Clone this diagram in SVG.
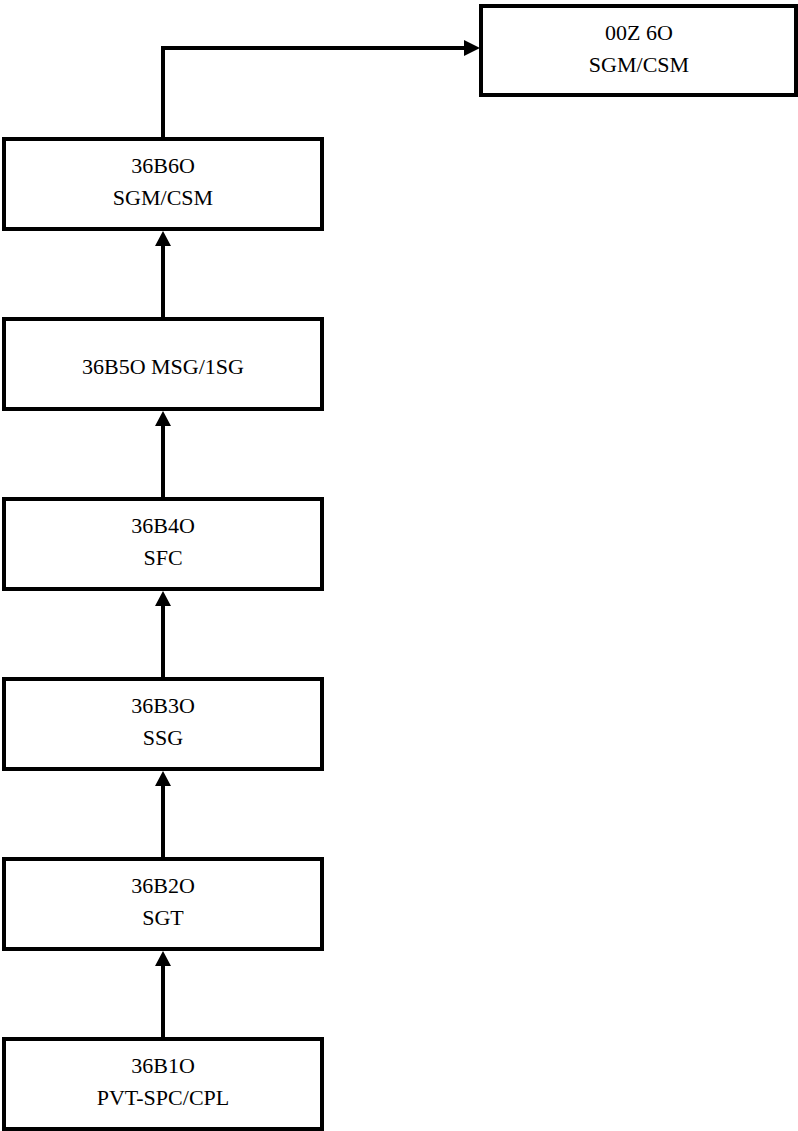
<svg xmlns="http://www.w3.org/2000/svg" width="798" height="1131" viewBox="0 0 798 1131">
<style>
.box{fill:#fff;stroke:#000;stroke-width:4}
.t{font-family:"Liberation Serif","Times New Roman",serif;font-size:22px;fill:#000;text-anchor:middle}
.ln{fill:none;stroke:#000;stroke-width:4}
.ah{fill:#000}
</style>
<rect width="798" height="1131" fill="#fff"/>
<g id="connectors">
<path class="ln" d="M163,139 V48 H466"/>
<polygon class="ah" points="480,48 464,40 464,56"/>
<line class="ln" x1="163" y1="319" x2="163" y2="245"/>
<polygon class="ah" points="163,231 155,246 171,246"/>
<line class="ln" x1="163" y1="499" x2="163" y2="425"/>
<polygon class="ah" points="163,411 155,426 171,426"/>
<line class="ln" x1="163" y1="679" x2="163" y2="605"/>
<polygon class="ah" points="163,591 155,606 171,606"/>
<line class="ln" x1="163" y1="859" x2="163" y2="785"/>
<polygon class="ah" points="163,771 155,786 171,786"/>
<line class="ln" x1="163" y1="1039" x2="163" y2="965"/>
<polygon class="ah" points="163,951 155,966 171,966"/>
</g>
<g id="n00Z6O">
<rect class="box" x="481" y="6" width="315" height="89"/>
<text class="t" x="639" y="40">00Z 6O</text>
<text class="t" x="639" y="72">SGM/CSM</text>
</g>
<g id="n36B6O">
<rect class="box" x="4" y="139" width="318" height="90"/>
<text class="t" x="163" y="173">36B6O</text>
<text class="t" x="163" y="205">SGM/CSM</text>
</g>
<g id="n36B5O">
<rect class="box" x="4" y="319" width="318" height="90"/>
<text class="t" x="163" y="374">36B5O MSG/1SG</text>
</g>
<g id="n36B4O">
<rect class="box" x="4" y="499" width="318" height="90"/>
<text class="t" x="163" y="533">36B4O</text>
<text class="t" x="163" y="565">SFC</text>
</g>
<g id="n36B3O">
<rect class="box" x="4" y="679" width="318" height="90"/>
<text class="t" x="163" y="713">36B3O</text>
<text class="t" x="163" y="745">SSG</text>
</g>
<g id="n36B2O">
<rect class="box" x="4" y="859" width="318" height="90"/>
<text class="t" x="163" y="893">36B2O</text>
<text class="t" x="163" y="925">SGT</text>
</g>
<g id="n36B1O">
<rect class="box" x="4" y="1039" width="318" height="90"/>
<text class="t" x="163" y="1073">36B1O</text>
<text class="t" x="163" y="1105">PVT-SPC/CPL</text>
</g>
</svg>
